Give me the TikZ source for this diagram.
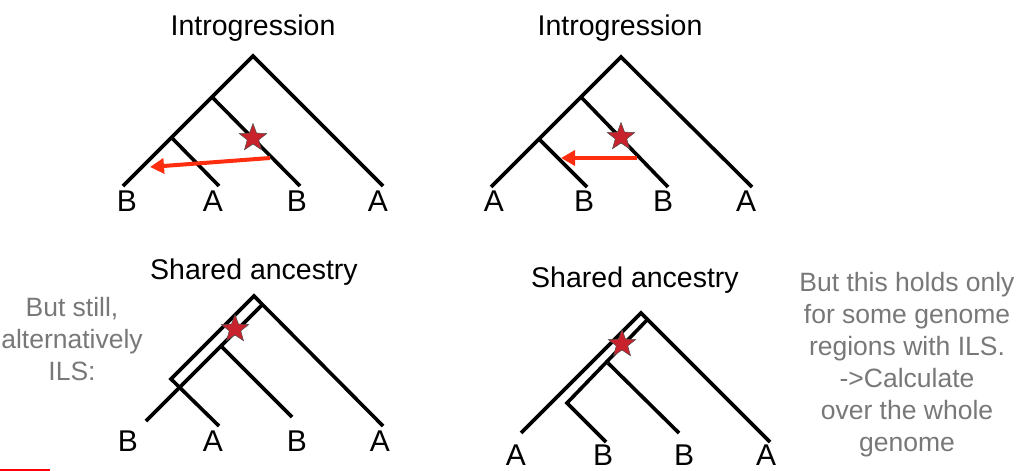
\documentclass[tikz,border=0pt]{standalone}
\usepackage{fontspec}
\setmainfont{Liberation Sans}
\usepackage{xcolor}
\definecolor{starred}{RGB}{200,35,45}
\definecolor{gene}{RGB}{255,45,15}
\definecolor{note}{RGB}{120,120,120}
\usetikzlibrary{arrows.meta,shapes.geometric}
\tikzset{
  branch/.style={line width=3.6pt,line join=miter},
  tip/.style={font=\fontsize{30}{32}\selectfont,inner sep=0pt},
  title/.style={font=\fontsize{28.5}{30}\selectfont,inner sep=0pt},
  mut/.style={star,star points=5,star point ratio=2.4,minimum size=29pt,%
    inner sep=0pt,fill=starred,draw=black!70,line width=0.5pt},
  flow/.style={-{Triangle[length=14pt,width=15pt]},line width=4pt,draw=gene},
  remark/.style={font=\fontsize{26.5}{32}\selectfont,text=note,align=center,inner sep=0pt},
}

\begin{document}
\begin{tikzpicture}[x=1pt,y=-1pt]
\useasboundingbox (0,0) rectangle (1018,471);

% introgression, left
\node[title] (t1) at (253,28) {Introgression};
\coordinate (r1) at (253,56);
\coordinate (u1) at (212,97);
\coordinate (v1) at (172,138);
\coordinate (b1) at (123,186);
\coordinate (a1) at (219,186);
\coordinate (b2) at (300,186);
\coordinate (a2) at (383,186);
\draw[branch] (b1) -- (r1) -- (a2);
\draw[branch] (u1) -- (b2);
\draw[branch] (v1) -- (a1);
\node[mut] (s1) at (253,138) {};
\coordinate (g1) at (270,158);
\coordinate (h1) at (150,167);
\draw[flow] (g1) -- (h1);
\node[tip] (lb1) at (127,201) {B};
\node[tip] (la1) at (213,201) {A};
\node[tip] (lb2) at (297,201) {B};
\node[tip] (la2) at (378,201) {A};

% introgression, right
\node[title] (t2) at (620,28) {Introgression};
\coordinate (r2) at (621,57);
\coordinate (u2) at (581,97);
\coordinate (v2) at (540,140);
\coordinate (a3) at (491,187);
\coordinate (b3) at (587,187);
\coordinate (b4) at (668,187);
\coordinate (a4) at (752,187);
\draw[branch] (a3) -- (r2) -- (a4);
\draw[branch] (u2) -- (b4);
\draw[branch] (v2) -- (b3);
\node[mut] (s2) at (621,137) {};
\coordinate (g2) at (637,158);
\coordinate (h2) at (561,158);
\draw[flow] (g2) -- (h2);
\node[tip] (la3) at (494,201) {A};
\node[tip] (lb3) at (584,201) {B};
\node[tip] (lb4) at (663,201) {B};
\node[tip] (la4) at (746,201) {A};

% shared ancestry, left
\node[title] (t3) at (254,272) {Shared ancestry};
\coordinate (r3) at (254,296);
\coordinate (p3) at (262,305);
\coordinate (c3) at (171,379);
\coordinate (n3) at (222,347);
\coordinate (b5) at (146,421);
\coordinate (a5) at (219,426);
\coordinate (b6) at (292,417);
\coordinate (a6) at (383,426);
\draw[branch] (a5) -- (c3) -- (r3) -- (a6);
\draw[branch] (p3) -- (b5);
\draw[branch] (n3) -- (b6);
\node[mut] (s3) at (235,329) {};
\node[tip] (lb5) at (128,441) {B};
\node[tip] (la5) at (213,441) {A};
\node[tip] (lb6) at (297,441) {B};
\node[tip] (la6) at (380,441) {A};

% shared ancestry, right
\node[title] (t4) at (635,280) {Shared ancestry};
\coordinate (r4) at (641,313);
\coordinate (p4) at (647,320);
\coordinate (c4) at (567,403);
\coordinate (n4) at (608,363);
\coordinate (a7) at (521,433);
\coordinate (b7) at (606,442);
\coordinate (b8) at (679,433);
\coordinate (a8) at (770,442);
\draw[branch] (a7) -- (r4) -- (a8);
\draw[branch] (p4) -- (c4) -- (b7);
\draw[branch] (n4) -- (b8);
\node[mut] (s4) at (622,344) {};
\node[tip] (la7) at (516,455) {A};
\node[tip] (lb7) at (603,455) {B};
\node[tip] (lb8) at (684,455) {B};
\node[tip] (la8) at (766,455) {A};

% side notes
\node[remark] (ils) at (72,339) {But still,\\alternatively\\ILS:};
\node[remark] (whole) at (907,365) {But this holds only\\for some genome\\regions with ILS.\\->Calculate\\over the whole\\genome};
\coordinate (m1) at (0,469.5);
\coordinate (m2) at (50,469.5);
\draw[red,line width=2pt] (m1) -- (m2);
\end{tikzpicture}
\end{document}
